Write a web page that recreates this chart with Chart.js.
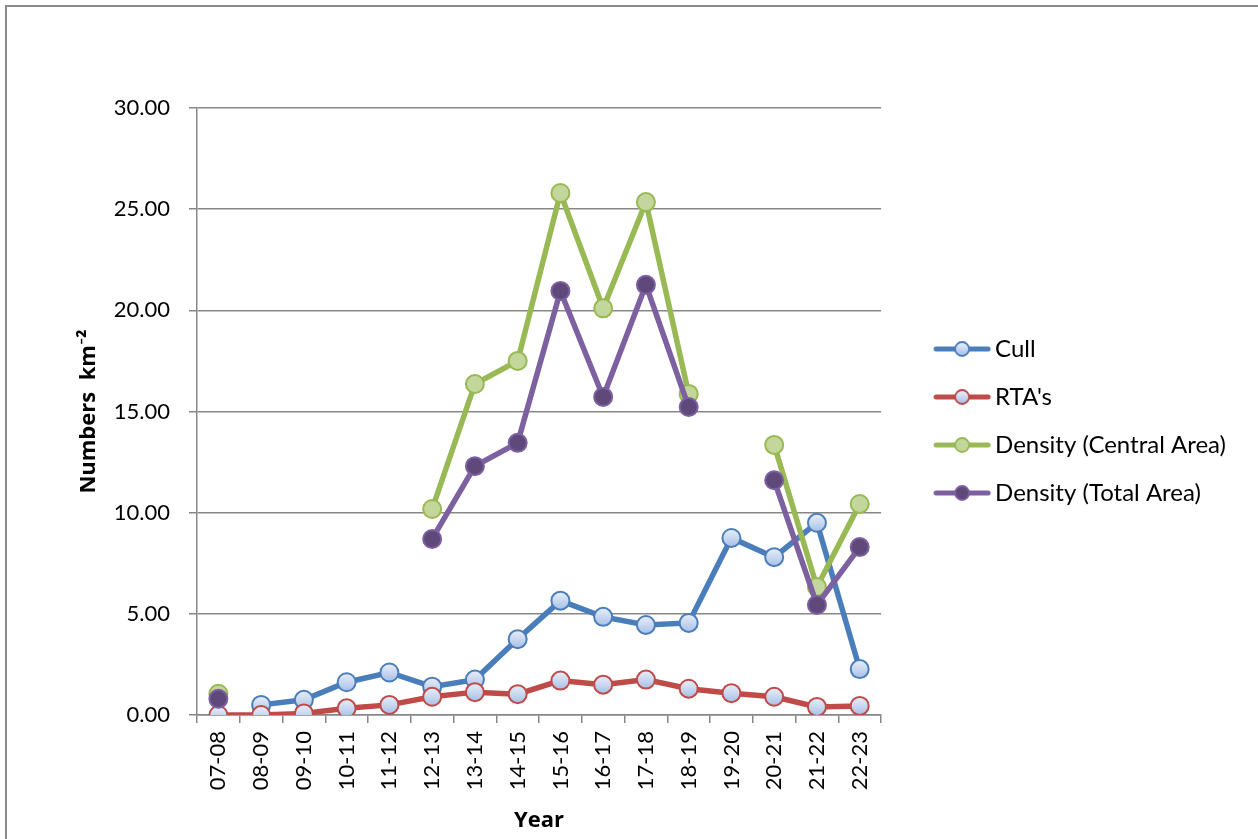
<!DOCTYPE html>
<html>
<head>
<meta charset="utf-8">
<script src="https://cdn.jsdelivr.net/npm/chart.js@4/dist/chart.umd.min.js"></script>
<style>
  html, body { margin: 0; padding: 0; background: #ffffff; }
  #wrap { position: relative; width: 1258px; height: 839px; overflow: hidden; background: #ffffff; }
  #frame { position: absolute; left: 5px; top: 5px; width: 1400px; height: 1000px;
           border-top: 2px solid #8c8c8c; border-left: 2px solid #8c8c8c; pointer-events: none; }
  canvas { position: absolute; left: 0; top: 0; }
</style>
</head>
<body>
<div id="wrap">
  <div id="frame"></div>
  <canvas id="chart" width="1258" height="839"></canvas>
</div>
<script>
// Survey years
const years = ['07-08','08-09','09-10','10-11','11-12','12-13','13-14','14-15',
               '15-16','16-17','17-18','18-19','19-20','20-21','21-22','22-23'];

// Animals removed by culling, per km²
const cull = [null, 0.50, 0.75, 1.62, 2.10, 1.40, 1.75, 3.75,
              5.65, 4.85, 4.45, 4.55, 8.75, 7.80, 9.50, 2.27];

// Road traffic accidents, per km²
const rta = [0.00, 0.00, 0.08, 0.33, 0.50, 0.90, 1.13, 1.03,
             1.70, 1.50, 1.75, 1.30, 1.08, 0.90, 0.40, 0.45];

// Population density estimates
const densityCentral = [1.05, null, null, null, null, 10.18, 16.36, 17.50,
                        25.80, 20.10, 25.35, 15.87, null, 13.35, 6.33, 10.43];
const densityTotal = [0.80, null, null, null, null, 8.70, 12.30, 13.45,
                      20.96, 15.72, 21.26, 15.22, null, 11.60, 5.44, 8.30];

// Y axis ticks
const yTicks = [0, 5, 10, 15, 20, 25, 30];

const FONT = 'Lato, "Open Sans", sans-serif';
const TITLE_FONT = '"Open Sans", Lato, sans-serif';
const GRID = '#878787';

// Light-blue bubble fill shared by the Cull and RTA markers
function bubbleFill(ctx) {
  const flat = '#c6d6ef';
  if (ctx.type !== 'data' || !ctx.parsed || ctx.parsed.y == null) return flat;
  const sy = ctx.chart.scales.y;
  if (!sy) return flat;
  const py = sy.getPixelForValue(ctx.parsed.y);
  if (!isFinite(py)) return flat;
  const g = ctx.chart.ctx.createLinearGradient(0, py - 10, 0, py + 10);
  g.addColorStop(0, '#eaf0fa');
  g.addColorStop(0.5, '#c9d8f0');
  g.addColorStop(1, '#a2bce6');
  return g;
}

// Legend sample: line with a marker in the middle (left part of the image is empty)
function legendSample(lineColor, fill, stroke) {
  const c = document.createElement('canvas');
  c.width = 102; c.height = 24;
  const g = c.getContext('2d');
  g.lineCap = 'round';
  g.strokeStyle = lineColor;
  g.lineWidth = 5;
  g.beginPath(); g.moveTo(43, 12); g.lineTo(95, 12); g.stroke();
  g.beginPath(); g.arc(69, 12, 7, 0, Math.PI * 2);
  if (fill) { g.fillStyle = fill; }
  else {
    const gr = g.createLinearGradient(0, 5, 0, 19);
    gr.addColorStop(0, '#eaf0fa'); gr.addColorStop(0.5, '#c9d8f0'); gr.addColorStop(1, '#a2bce6');
    g.fillStyle = gr;
  }
  g.fill();
  g.lineWidth = 1.8; g.strokeStyle = stroke; g.stroke();
  return c;
}

const series = [
  { label: 'Cull', data: cull, line: '#4a7ebb', fill: bubbleFill, stroke: '#4a7ebb', order: 4 },
  { label: "RTA's", data: rta, line: '#be4b48', fill: bubbleFill, stroke: '#be4b48', order: 3 },
  { label: 'Density (Central Area)', data: densityCentral, line: '#98b954', fill: '#c3d69b', stroke: '#98b954', order: 2 },
  { label: 'Density (Total Area)', data: densityTotal, line: '#7d60a0', fill: '#5f497a', stroke: '#7d60a0', order: 1 }
];

const datasets = series.map(s => ({
  label: s.label,
  data: s.data,
  order: s.order,
  borderColor: s.line,
  backgroundColor: s.line,
  borderWidth: 5.5,
  tension: 0,
  spanGaps: false,
  pointRadius: 9,
  pointHoverRadius: 9,
  pointBorderWidth: 2,
  pointBorderColor: s.stroke,
  pointBackgroundColor: s.fill,
  pointStyle: 'circle',
  legendImage: legendSample(s.line, typeof s.fill === 'string' ? s.fill : null, s.stroke)
}));

// Let the right-hand legend take the width its labels need
const wideLegend = {
  id: 'wideLegend',
  beforeLayout(chart) {
    const lg = chart.legend;
    if (lg && !lg._wide) {
      const orig = lg.update.bind(lg);
      lg.update = (maxWidth, maxHeight, margins) => orig(Math.max(maxWidth, 600), maxHeight, margins);
      lg._wide = true;
    }
  }
};

new Chart(document.getElementById('chart'), {
  type: 'line',
  data: { labels: years, datasets },
  plugins: [wideLegend],
  options: {
    responsive: false,
    animation: false,
    events: [],
    layout: { padding: { left: 76, top: 108, right: 22, bottom: 0 } },
    plugins: {
      tooltip: { enabled: false },
      legend: {
        position: 'right',
        fullSize: false,
        title: { display: true, text: ' ', padding: { top: 0, bottom: 7 }, font: { size: 10 } },
        labels: {
          usePointStyle: true,
          pointStyleWidth: 78,
          padding: 24,
          color: '#000000',
          font: { family: FONT, size: 24 },
          sort: (a, b) => a.datasetIndex - b.datasetIndex,
          generateLabels: (chart) => chart.data.datasets.map((d, i) => ({
            text: d.label,
            datasetIndex: i,
            pointStyle: d.legendImage,
            fillStyle: d.borderColor,
            strokeStyle: d.borderColor,
            lineWidth: 0,
            hidden: false,
            fontColor: '#000000'
          }))
        }
      }
    },
    scales: {
      x: {
        type: 'category',
        offset: true,
        grid: { display: true, offset: true, drawOnChartArea: false, drawTicks: true,
                tickLength: 8, color: GRID, lineWidth: 1.5 },
        border: { display: true, color: GRID, width: 1.5 },
        ticks: { color: '#000000', font: { family: FONT, size: 22 }, minRotation: 90, maxRotation: 90,
                 padding: 8, autoSkip: false },
        title: { display: true, text: 'Year', color: '#000000',
                 font: { family: TITLE_FONT, size: 22, weight: 'bold' }, padding: { top: 0, bottom: 5 } },
        afterFit: (scale) => { scale.height = 124; }
      },
      y: {
        min: 0, max: 30,
        afterBuildTicks: (scale) => { scale.ticks = yTicks.map(v => ({ value: v })); },
        grid: { color: GRID, lineWidth: 1.5, tickLength: 8, drawTicks: true },
        border: { display: true, color: GRID, width: 1.5 },
        ticks: { color: '#000000', font: { family: FONT, size: 22 }, padding: 19,
                 callback: (v) => Number(v).toFixed(2) },
        title: { display: true, text: 'Numbers  km⁻²', color: '#000000',
                 font: { family: TITLE_FONT, size: 22, weight: 'bold' }, padding: { top: 0, bottom: 0 } },
        afterFit: (scale) => { scale.width = 121; }
      }
    }
  }
});
</script>
</body>
</html>
